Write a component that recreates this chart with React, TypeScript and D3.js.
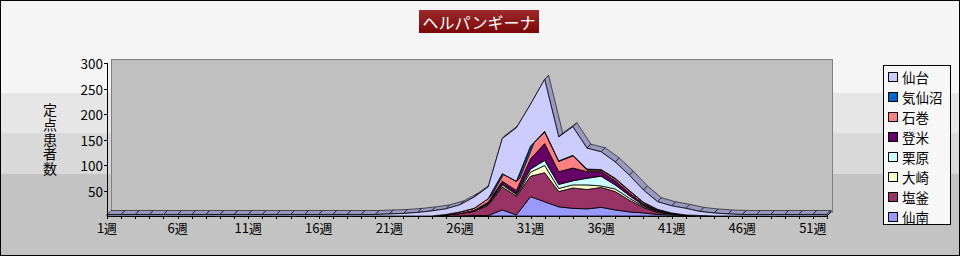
import React, { useEffect } from "react";
import * as d3 from "d3";

// ---- data ----
const weeks: number[] = d3.range(1, 53);
const weekLabels = ["1週", "6週", "11週", "16週", "21週", "26週", "31週", "36週", "41週", "46週", "51週"];
const labelWeeks = [1, 6, 11, 16, 21, 26, 31, 36, 41, 46, 51];
const yTicks = [50, 100, 150, 200, 250, 300];

// stacking order bottom -> top
const seriesNames = ["仙南", "塩釜", "大崎", "栗原", "登米", "石巻", "気仙沼", "仙台"];
const seriesColors = ["#9999ff", "#993366", "#ffffcc", "#ccffff", "#660066", "#ff8080", "#0066cc", "#ccccff"];

const senan = [0,0,0,0,0,0,0,0,0,0,0,0,0,0,0,0,0,0,0,0,0,0,0,0,0,0,1,1,12,2,38,28,18,15,14,17,12,8,6,3,2,1,0,0,0,0,0,0,0,0,0,0];
const shiogama = [0,0,0,0,0,0,0,0,0,0,0,0,0,0,0,0,0,0,0,0,0,0,0,0,2,5,8,20,45,37,40,57,30,40,38,39,36,23,11,4,2,1,1,0,0,0,0,0,0,0,0,0];
const osaki = [0,0,0,0,0,0,0,0,0,0,0,0,0,0,0,0,0,0,0,0,0,0,0,0,0,0,1,2,4,3,8,14,6,6,9,3,5,4,2,1,0,0,0,0,0,0,0,0,0,0,0,0];
const kurihara = [0,0,0,0,0,0,0,0,0,0,0,0,0,0,0,0,0,0,0,0,0,0,0,0,0,0,0,1,2,2,6,10,8,8,13,19,8,5,2,1,0,0,0,0,0,0,0,0,0,0,0,0];
const tome = [0,0,0,0,0,0,0,0,0,0,0,0,0,0,0,0,0,0,0,0,0,0,0,0,0,0,1,3,5,6,20,33,25,25,13,9,8,5,3,2,1,0,0,0,0,0,0,0,0,0,0,0];
const ishinomaki = [0,0,0,0,0,0,0,0,0,0,0,0,0,0,0,0,0,0,0,0,0,0,0,0,1,3,4,7,15,18,25,23,20,24,3,3,4,4,3,2,1,0,0,0,0,0,0,0,0,0,0,0];
const kesennuma = [0,0,0,0,0,0,0,0,0,0,0,0,0,0,0,0,0,0,0,0,0,0,0,0,0,0,0,0,0,0,0,1,1,1,2,1,1,1,0,0,0,0,0,0,0,0,0,0,0,0,0,0];
const sendai = [3,3,3,3,3,3,3,3,3,3,3,3,3,3,3,3,3,3,3,3,4,5,7,10,11,14,22,23,69,105,82,102,47,56,41,35,32,30,24,15,14,13,8,6,4,3,3,3,3,3,3,3];

const seriesValues = [senan, shiogama, osaki, kurihara, tome, ishinomaki, kesennuma, sendai];

const FONT = "'Noto Sans CJK JP', 'Noto Sans', sans-serif";
const DX = 4;
const DY = -4;

export default function App() {
  useEffect(() => {
    document.body.style.margin = "0";
  }, []);

  const table = weeks.map((w, i) => {
    const row: any = { week: w };
    seriesNames.forEach((n, k) => (row[n] = seriesValues[k][i]));
    return row;
  });
  const stacked = d3.stack<any>().keys(seriesNames)(table);

  const x = d3.scalePoint<number>().domain(weeks).range([107, 827]);
  const y = d3.scaleLinear().domain([0, 300]).range([216, 63]);

  const area = d3
    .area<any>()
    .x((d) => x(d.data.week) as number)
    .y0((d) => y(d[0]))
    .y1((d) => y(d[1]));

  const layers = stacked.map((layer, k) => {
    const color = seriesColors[k];
    const dark = d3.color(color)!.darker(0.8).formatHex();
    const quads: string[] = [];
    for (let i = 0; i < layer.length - 1; i++) {
      const a = layer[i], b = layer[i + 1];
      const x1 = x(a.data.week) as number, x2 = x(b.data.week) as number;
      const y1 = y(a[1]), y2 = y(b[1]);
      quads.push(`M${x1},${y1}L${x2},${y2}L${x2 + DX},${y2 + DY}L${x1 + DX},${y1 + DY}Z`);
    }
    const last = layer[layer.length - 1];
    const xl = x(last.data.week) as number;
    const cap = `M${xl},${y(last[0])}L${xl},${y(last[1])}L${xl + DX},${y(last[1]) + DY}L${xl + DX},${y(last[0]) + DY}Z`;
    return { key: seriesNames[k], color, dark, quads, cap, front: area(layer) as string };
  });

  const legendItems = [...seriesNames].reverse();
  const legendColors = [...seriesColors].reverse();

  return (
    <svg width={960} height={256} style={{ position: "absolute", left: 0, top: 0, display: "block" }} fontFamily={FONT}>
      <defs>
        <linearGradient id="titleGrad" x1="0" y1="0" x2="0" y2="1">
          <stop offset="0" stopColor="#9c2a2a" />
          <stop offset="1" stopColor="#7a0808" />
        </linearGradient>
      </defs>
      {/* background bands */}
      <rect x={0} y={0} width={960} height={93} fill="#f5f5f5" />
      <rect x={0} y={93} width={960} height={40} fill="#e6e6e6" />
      <rect x={0} y={133} width={960} height={41} fill="#d9d9d9" />
      <rect x={0} y={174} width={960} height={82} fill="#c3c3c3" />
      <rect x={0.5} y={0.5} width={959} height={255} fill="none" stroke="#000" />

      {/* title */}
      <rect x={419} y={10} width={120} height={23} fill="url(#titleGrad)" />
      <text x={479} y={22} textAnchor="middle" dominantBaseline="central" fill="#fff" fontSize={16}>
        ヘルパンギーナ
      </text>

      {/* back wall */}
      <rect x={111.5} y={59.5} width={721} height={153} fill="#c0c0c0" stroke="#808080" />

      {/* layers */}
      {layers.map((l) => (
        <g key={l.key}>
          {l.quads.map((q, i) => (
            <path key={i} d={q} fill={l.dark} stroke="#000" strokeWidth={0.6} strokeLinejoin="round" />
          ))}
          <path d={l.cap} fill={l.dark} stroke="#000" strokeWidth={0.6} />
          <path d={l.front} fill={l.color} stroke="#000" strokeWidth={0.8} strokeLinejoin="round" />
        </g>
      ))}

      {/* axes */}
      <line x1={107.5} y1={63} x2={107.5} y2={216.5} stroke="#000" />
      <line x1={107} y1={216.5} x2={828} y2={216.5} stroke="#000" />
      {yTicks.map((t) => (
        <g key={t}>
          <line x1={104} x2={107.5} y1={Math.round(y(t)) + 0.5} y2={Math.round(y(t)) + 0.5} stroke="#000" />
          <text x={103} y={y(t)} textAnchor="end" dominantBaseline="central" fontSize={13.5} fill="#000">
            {t}
          </text>
        </g>
      ))}
      {weeks.map((w) => (
        <line key={w} x1={Math.round(x(w) as number) + 0.5} x2={Math.round(x(w) as number) + 0.5} y1={216} y2={219} stroke="#000" />
      ))}
      {labelWeeks.map((w, i) => (
        <text key={w} x={x(w) as number} y={227} textAnchor="middle" dominantBaseline="central" fontSize={13} fill="#000">
          {weekLabels[i]}
        </text>
      ))}

      {/* y title */}
      <text x={50} y={103} fontSize={14} fill="#000" style={{ writingMode: "vertical-rl", textOrientation: "upright", letterSpacing: "0.6px" } as any}>
        定点患者数
      </text>

      {/* legend */}
      <rect x={883.5} y={65.5} width={67} height={159} fill="#f7f7f7" stroke="#000" />
      {legendItems.map((n, i) => {
        const cy = 77 + i * 20;
        return (
          <g key={n}>
            <rect x={888.5} y={cy - 4.5} width={9} height={9} fill={legendColors[i]} stroke="#000" />
            <text x={902} y={cy} dominantBaseline="central" fontSize={13.5} fill="#000">
              {n}
            </text>
          </g>
        );
      })}
    </svg>
  );
}
